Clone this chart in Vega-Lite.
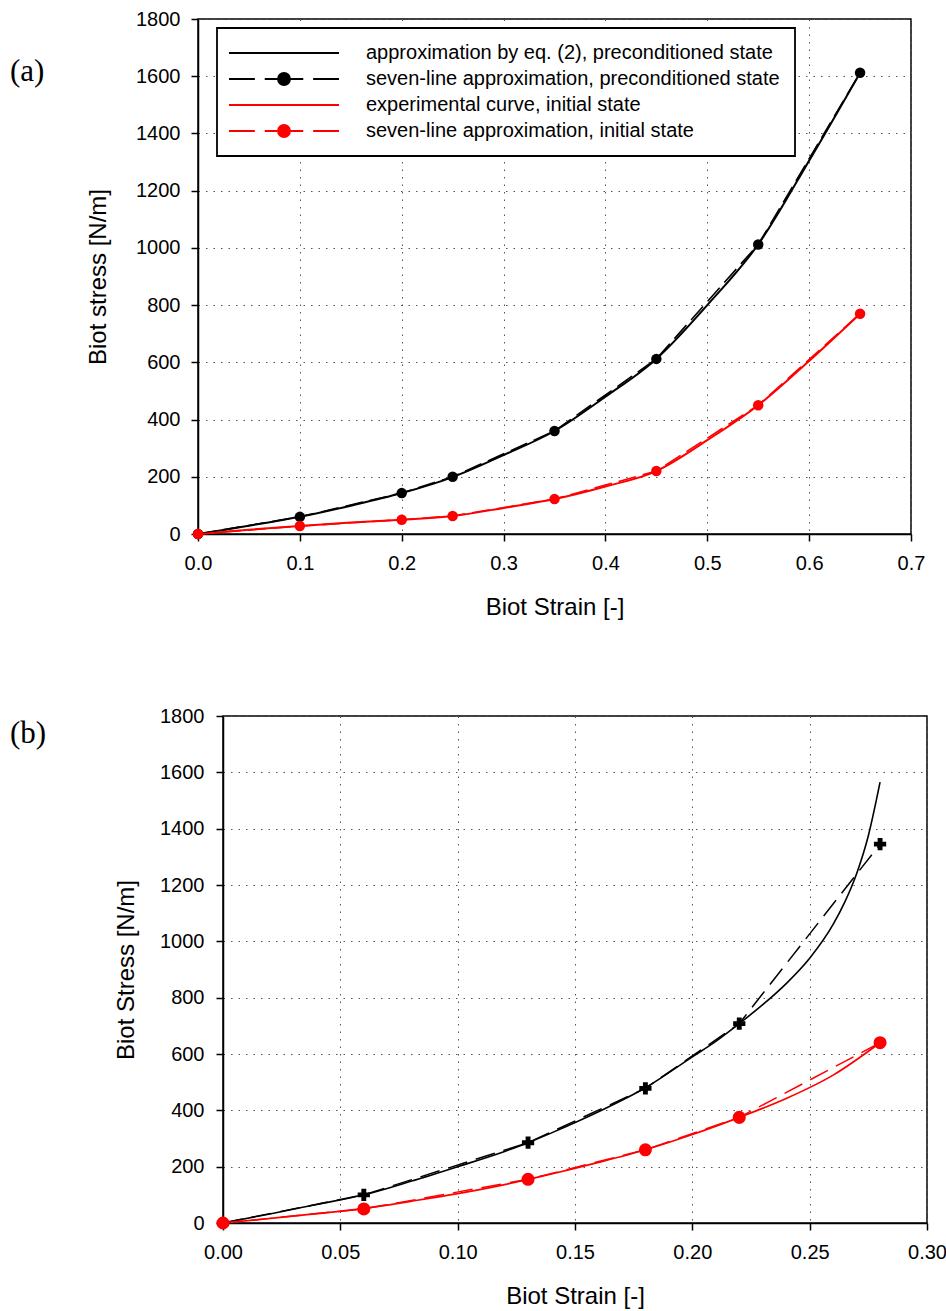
{
  "$schema": "https://vega.github.io/schema/vega-lite/v6.json",
  "background": "white",
  "padding": {"left": 8, "top": 8, "right": 0, "bottom": 0},
  "spacing": {"row": 85, "column": 0},
  "columns": 2,
  "align": {"row": "each", "column": "none"},
  "resolve": {"scale": {"color": "independent"}, "legend": {"color": "independent"}},
  "config": {
    "view": {"stroke": "black", "strokeWidth": 1.5},
    "axis": {
      "labelFont": "Liberation Sans", "labelFontSize": 20, "labelColor": "black",
      "titleFont": "Liberation Sans", "titleFontSize": 24, "titleFontWeight": "normal", "titleColor": "black",
      "domainColor": "black", "domainWidth": 1.5,
      "tickColor": "black", "tickWidth": 1.5, "tickSize": 7,
      "gridColor": "#555555", "gridDash": [1.5, 6], "gridWidth": 1,
      "labelFlush": false, "labelOverlap": false
    },
    "axisX": {"labelPadding": 12, "titlePadding": 22},
    "axisY": {"labelPadding": 11, "titlePadding": 25}
  },
  "datasets": {
    "a": [
      {"s": "approximation by eq. (2), preconditioned state", "x": 0, "y": 0},
      {"s": "approximation by eq. (2), preconditioned state", "x": 0.025, "y": 14},
      {"s": "approximation by eq. (2), preconditioned state", "x": 0.05, "y": 29},
      {"s": "approximation by eq. (2), preconditioned state", "x": 0.075, "y": 44},
      {"s": "approximation by eq. (2), preconditioned state", "x": 0.1, "y": 60},
      {"s": "approximation by eq. (2), preconditioned state", "x": 0.15, "y": 99},
      {"s": "approximation by eq. (2), preconditioned state", "x": 0.2, "y": 143},
      {"s": "approximation by eq. (2), preconditioned state", "x": 0.25, "y": 199},
      {"s": "approximation by eq. (2), preconditioned state", "x": 0.3, "y": 276},
      {"s": "approximation by eq. (2), preconditioned state", "x": 0.35, "y": 360},
      {"s": "approximation by eq. (2), preconditioned state", "x": 0.4, "y": 480},
      {"s": "approximation by eq. (2), preconditioned state", "x": 0.45, "y": 612},
      {"s": "approximation by eq. (2), preconditioned state", "x": 0.5, "y": 800},
      {"s": "approximation by eq. (2), preconditioned state", "x": 0.55, "y": 1012},
      {"s": "approximation by eq. (2), preconditioned state", "x": 0.6, "y": 1305},
      {"s": "approximation by eq. (2), preconditioned state", "x": 0.65, "y": 1612},
      {"s": "seven-line approximation, preconditioned state", "x": 0, "y": 0},
      {"s": "seven-line approximation, preconditioned state", "x": 0.1, "y": 60},
      {"s": "seven-line approximation, preconditioned state", "x": 0.2, "y": 143},
      {"s": "seven-line approximation, preconditioned state", "x": 0.25, "y": 200},
      {"s": "seven-line approximation, preconditioned state", "x": 0.35, "y": 360},
      {"s": "seven-line approximation, preconditioned state", "x": 0.45, "y": 612},
      {"s": "seven-line approximation, preconditioned state", "x": 0.55, "y": 1012},
      {"s": "seven-line approximation, preconditioned state", "x": 0.65, "y": 1612},
      {"s": "experimental curve, initial state", "x": 0, "y": 0},
      {"s": "experimental curve, initial state", "x": 0.05, "y": 15},
      {"s": "experimental curve, initial state", "x": 0.1, "y": 28},
      {"s": "experimental curve, initial state", "x": 0.15, "y": 40},
      {"s": "experimental curve, initial state", "x": 0.2, "y": 50},
      {"s": "experimental curve, initial state", "x": 0.25, "y": 63},
      {"s": "experimental curve, initial state", "x": 0.3, "y": 91},
      {"s": "experimental curve, initial state", "x": 0.35, "y": 122},
      {"s": "experimental curve, initial state", "x": 0.4, "y": 166},
      {"s": "experimental curve, initial state", "x": 0.45, "y": 220},
      {"s": "experimental curve, initial state", "x": 0.5, "y": 328},
      {"s": "experimental curve, initial state", "x": 0.55, "y": 450},
      {"s": "experimental curve, initial state", "x": 0.6, "y": 605},
      {"s": "experimental curve, initial state", "x": 0.65, "y": 770},
      {"s": "seven-line approximation, initial state", "x": 0, "y": 0},
      {"s": "seven-line approximation, initial state", "x": 0.1, "y": 28},
      {"s": "seven-line approximation, initial state", "x": 0.2, "y": 50},
      {"s": "seven-line approximation, initial state", "x": 0.25, "y": 63},
      {"s": "seven-line approximation, initial state", "x": 0.35, "y": 122},
      {"s": "seven-line approximation, initial state", "x": 0.45, "y": 220},
      {"s": "seven-line approximation, initial state", "x": 0.55, "y": 450},
      {"s": "seven-line approximation, initial state", "x": 0.65, "y": 770}
    ],
    "b": [
      {"s": "approximation by eq. (2), preconditioned state", "x": 0, "y": 0},
      {"s": "approximation by eq. (2), preconditioned state", "x": 0.02, "y": 32},
      {"s": "approximation by eq. (2), preconditioned state", "x": 0.04, "y": 66},
      {"s": "approximation by eq. (2), preconditioned state", "x": 0.06, "y": 100},
      {"s": "approximation by eq. (2), preconditioned state", "x": 0.08, "y": 148},
      {"s": "approximation by eq. (2), preconditioned state", "x": 0.1, "y": 200},
      {"s": "approximation by eq. (2), preconditioned state", "x": 0.12, "y": 254},
      {"s": "approximation by eq. (2), preconditioned state", "x": 0.13, "y": 285},
      {"s": "approximation by eq. (2), preconditioned state", "x": 0.14, "y": 320},
      {"s": "approximation by eq. (2), preconditioned state", "x": 0.16, "y": 395},
      {"s": "approximation by eq. (2), preconditioned state", "x": 0.18, "y": 480},
      {"s": "approximation by eq. (2), preconditioned state", "x": 0.2, "y": 590},
      {"s": "approximation by eq. (2), preconditioned state", "x": 0.21, "y": 645},
      {"s": "approximation by eq. (2), preconditioned state", "x": 0.22, "y": 708},
      {"s": "approximation by eq. (2), preconditioned state", "x": 0.23, "y": 775},
      {"s": "approximation by eq. (2), preconditioned state", "x": 0.24, "y": 850},
      {"s": "approximation by eq. (2), preconditioned state", "x": 0.25, "y": 940},
      {"s": "approximation by eq. (2), preconditioned state", "x": 0.26, "y": 1060},
      {"s": "approximation by eq. (2), preconditioned state", "x": 0.265, "y": 1140},
      {"s": "approximation by eq. (2), preconditioned state", "x": 0.27, "y": 1240},
      {"s": "approximation by eq. (2), preconditioned state", "x": 0.275, "y": 1375},
      {"s": "approximation by eq. (2), preconditioned state", "x": 0.28, "y": 1565},
      {"s": "seven-line approximation, preconditioned state", "x": 0, "y": 0},
      {"s": "seven-line approximation, preconditioned state", "x": 0.06, "y": 100},
      {"s": "seven-line approximation, preconditioned state", "x": 0.13, "y": 285},
      {"s": "seven-line approximation, preconditioned state", "x": 0.18, "y": 478},
      {"s": "seven-line approximation, preconditioned state", "x": 0.22, "y": 708},
      {"s": "seven-line approximation, preconditioned state", "x": 0.28, "y": 1345},
      {"s": "experimental curve, initial state", "x": 0, "y": 0},
      {"s": "experimental curve, initial state", "x": 0.02, "y": 16},
      {"s": "experimental curve, initial state", "x": 0.04, "y": 33},
      {"s": "experimental curve, initial state", "x": 0.06, "y": 52},
      {"s": "experimental curve, initial state", "x": 0.08, "y": 77},
      {"s": "experimental curve, initial state", "x": 0.1, "y": 104},
      {"s": "experimental curve, initial state", "x": 0.12, "y": 136},
      {"s": "experimental curve, initial state", "x": 0.13, "y": 155},
      {"s": "experimental curve, initial state", "x": 0.14, "y": 174},
      {"s": "experimental curve, initial state", "x": 0.16, "y": 215},
      {"s": "experimental curve, initial state", "x": 0.18, "y": 260},
      {"s": "experimental curve, initial state", "x": 0.2, "y": 314},
      {"s": "experimental curve, initial state", "x": 0.22, "y": 375},
      {"s": "experimental curve, initial state", "x": 0.24, "y": 442},
      {"s": "experimental curve, initial state", "x": 0.26, "y": 525},
      {"s": "experimental curve, initial state", "x": 0.28, "y": 640},
      {"s": "seven-line approximation, initial state", "x": 0, "y": 0},
      {"s": "seven-line approximation, initial state", "x": 0.06, "y": 50},
      {"s": "seven-line approximation, initial state", "x": 0.13, "y": 155},
      {"s": "seven-line approximation, initial state", "x": 0.18, "y": 260},
      {"s": "seven-line approximation, initial state", "x": 0.22, "y": 375},
      {"s": "seven-line approximation, initial state", "x": 0.28, "y": 640}
    ]
  },
  "concat": [
    {"data": {"values": []}, "mark": "point", "width": 1, "height": 1, "view": {"stroke": null}},
    {
      "width": 713,
      "height": 515,
      "title": {"text": "(a)", "anchor": "start", "frame": "group", "orient": "top", "offset": 0, "baseline": "top", "dx": -188, "dy": 79, "font": "Liberation Serif", "fontSize": 31, "fontWeight": "normal", "color": "black"},
      "data": {"name": "a"},
      "encoding": {
        "x": {"field": "x", "type": "quantitative", "scale": {"domain": [0, 0.7], "nice": false, "zero": false},
              "axis": {"title": "Biot Strain [-]", "values": [0, 0.1, 0.2, 0.3, 0.4, 0.5, 0.6, 0.7], "format": ".1f"}},
        "y": {"field": "y", "type": "quantitative", "scale": {"domain": [0, 1800], "nice": false},
              "axis": {"title": "Biot stress [N/m]", "values": [0, 200, 400, 600, 800, 1000, 1200, 1400, 1600, 1800], "format": "d"}},
        "color": {
          "field": "s", "type": "nominal",
          "scale": {
            "domain": ["approximation by eq. (2), preconditioned state", "seven-line approximation, preconditioned state", "experimental curve, initial state", "seven-line approximation, initial state"],
            "range": ["#000000", "#000000", "#ff0000", "#ff0000"]
          },
          "legend": {
            "orient": "none", "legendX": 19, "legendY": 9, "title": null,
            "fillColor": "white", "strokeColor": "black", "padding": 15, "rowPadding": 6,
            "labelFont": "Liberation Sans", "labelFontSize": 20, "labelColor": "black", "labelLimit": 700,
            "symbolSize": 121, "symbolOffset": 42, "labelOffset": 72, "symbolStrokeWidth": 1.6,
            "encode": {
              "legend": {"update": {"strokeWidth": {"value": 1.8}}},
              "symbols": {
                "update": {
                  "shape": {"signal": "indexof(datum.value, 'seven-line') >= 0 ? 'M-10,0H-5.3M-3.5,0H3.5M5.3,0H10M1.1,0A1.1,1.1,0,1,1,-1.1,0A1.1,1.1,0,1,1,1.1,0Z' : 'M-10,0H10'"},
                  "fill": {"signal": "indexof(datum.value, 'initial') >= 0 ? '#ff0000' : '#000000'"},
                  "stroke": {"signal": "indexof(datum.value, 'initial') >= 0 ? '#ff0000' : '#000000'"},
                  "strokeWidth": {"value": 1.8},
                  "opacity": {"value": 1}
                }
              }
            }
          }
        }
      },
      "layer": [
        {
          "transform": [{"filter": {"field": "s", "oneOf": ["approximation by eq. (2), preconditioned state", "experimental curve, initial state"]}}],
          "mark": {"type": "line", "strokeWidth": 2, "interpolate": "monotone"}
        },
        {
          "transform": [{"filter": {"field": "s", "oneOf": ["seven-line approximation, preconditioned state", "seven-line approximation, initial state"]}}],
          "mark": {"type": "line", "strokeWidth": 1.6, "strokeDash": [18, 7]}
        },
        {
          "transform": [{"filter": {"field": "s", "oneOf": ["seven-line approximation, preconditioned state", "seven-line approximation, initial state"]}}],
          "mark": {"type": "point", "shape": "circle", "filled": true, "size": 110, "opacity": 1}
        }
      ]
    },
    {"data": {"values": []}, "mark": "point", "width": 1, "height": 1, "view": {"stroke": null}},
    {
      "width": 704,
      "height": 507,
      "title": {"text": "(b)", "anchor": "start", "frame": "group", "orient": "top", "offset": 0, "baseline": "top", "dx": -213, "dy": 44, "font": "Liberation Serif", "fontSize": 31, "fontWeight": "normal", "color": "black"},
      "data": {"name": "b"},
      "encoding": {
        "x": {"field": "x", "type": "quantitative", "scale": {"domain": [0, 0.3], "nice": false, "zero": false},
              "axis": {"title": "Biot Strain [-]", "values": [0, 0.05, 0.1, 0.15, 0.2, 0.25, 0.3], "format": ".2f"}},
        "y": {"field": "y", "type": "quantitative", "scale": {"domain": [0, 1800], "nice": false},
              "axis": {"title": "Biot Stress [N/m]", "values": [0, 200, 400, 600, 800, 1000, 1200, 1400, 1600, 1800], "format": "d", "labelPadding": 12, "titlePadding": 21}}
      },
      "layer": [
        {
          "transform": [{"filter": {"field": "s", "equal": "approximation by eq. (2), preconditioned state"}}],
          "mark": {"type": "line", "strokeWidth": 1.6, "interpolate": "monotone", "color": "#000000"}
        },
        {
          "transform": [{"filter": {"field": "s", "equal": "seven-line approximation, preconditioned state"}}],
          "mark": {"type": "line", "strokeWidth": 1.5, "strokeDash": [20, 9], "color": "#000000"}
        },
        {
          "transform": [{"filter": {"field": "s", "equal": "experimental curve, initial state"}}],
          "mark": {"type": "line", "strokeWidth": 1.7, "interpolate": "monotone", "color": "#ff0000"}
        },
        {
          "transform": [{"filter": {"field": "s", "equal": "seven-line approximation, initial state"}}],
          "mark": {"type": "line", "strokeWidth": 1.5, "strokeDash": [20, 9], "color": "#ff0000"}
        },
        {
          "transform": [{"filter": {"field": "s", "equal": "seven-line approximation, preconditioned state"}}],
          "mark": {"type": "point", "shape": "cross", "filled": true, "size": 150, "opacity": 1, "color": "#000000"}
        },
        {
          "transform": [{"filter": {"field": "s", "equal": "seven-line approximation, initial state"}}],
          "mark": {"type": "point", "shape": "circle", "filled": true, "size": 170, "opacity": 1, "color": "#ff0000"}
        }
      ]
    }
  ]
}
